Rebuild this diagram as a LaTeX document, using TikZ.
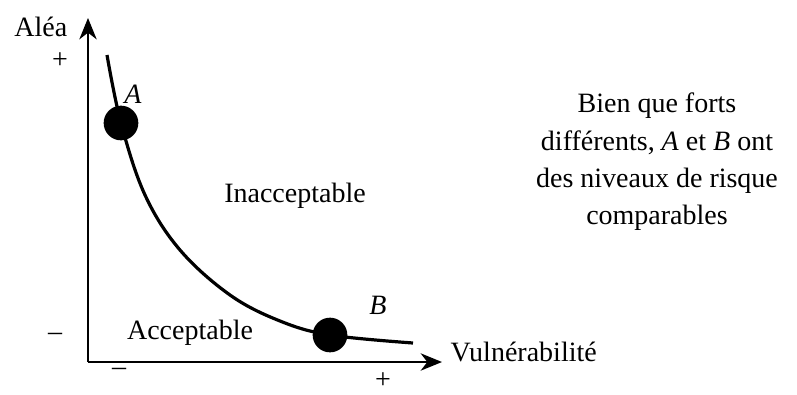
\documentclass[tikz,border=0pt]{standalone}
\usepackage{fontspec}
\setmainfont{Liberation Serif}
\usetikzlibrary{arrows.meta}

\begin{document}
\begin{tikzpicture}[x=0.75pt, y=-0.75pt, >={Stealth[length=16pt,width=13pt,inset=5pt]},
  every node/.style={font=\fontsize{21}{28}\selectfont},
  axis/.style={->, line width=1.6pt},
  dot/.style={circle, fill=black, minimum size=26pt, inner sep=0pt}]
\useasboundingbox (0,0) rectangle (797,394);
% axes
\coordinate (o) at (88,362);
\coordinate (ytip) at (88,18);
\coordinate (xtip) at (442,362);
\draw[axis] (o) -- (ytip);
\draw[axis] (o) -- (xtip);
\node[anchor=east] (alea) at (72,27) {Aléa};
\node[anchor=west] (vuln) at (446,352) {Vulnérabilité};
\node (yplus) at (60,61) {+};
\node (yminus) at (55,337) {--};
\node (xminus) at (119,372) {--};
\node[inner sep=0pt] (xplus) at (383,381) {+};
% iso-risk curve
\draw[line width=2.4pt] plot[smooth, tension=0.6] coordinates
  {(107,55) (121,123) (145,195) (180,250) (230,295) (280,321) (330,335) (413,343)};
\node[dot] (ptA) at (121,123) {};
\node[dot] (ptB) at (330,335) {};
\node (labA) at (133,94) {\textit{A}};
\node (labB) at (378,305) {\textit{B}};
\node (inacc) at (295,196) {Inacceptable};
\node (acc) at (190,333) {Acceptable};
\node[align=center] (note) at (657,162) {Bien que forts\\différents, \textit{A} et \textit{B} ont\\des niveaux de risque\\comparables};
\end{tikzpicture}
\end{document}
